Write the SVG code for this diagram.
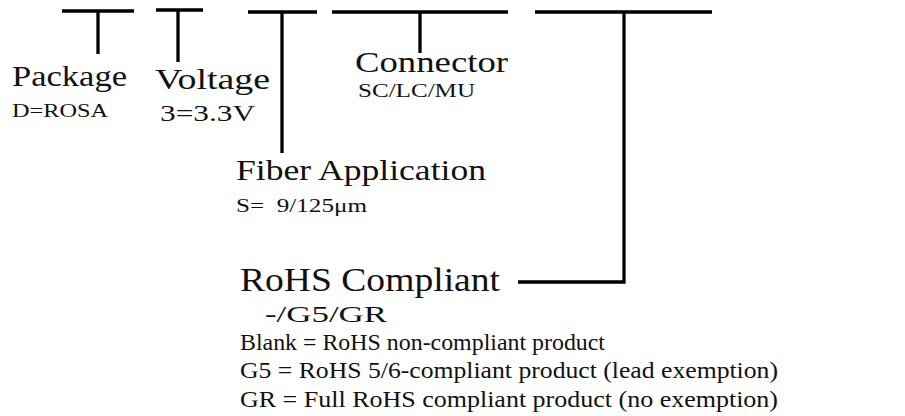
<svg xmlns="http://www.w3.org/2000/svg" width="905" height="416" viewBox="0 0 905 416">
<style>
.ln{stroke:#000;stroke-width:3.3;fill:none;stroke-linecap:butt}
text{font-family:"Liberation Serif","Times New Roman",serif;fill:#111}
.big{font-size:29px}
.sm{font-size:19px}
.md{font-size:24px}
</style>
<rect width="905" height="416" fill="#fff"/>
<g id="connectors">
<path class="ln" d="M62 11H134M98 11V54"/>
<path class="ln" d="M156 10H203M178 10V62"/>
<path class="ln" d="M248 12H317M282 12V153"/>
<path class="ln" d="M332 12H508M420 12V53"/>
<path class="ln" d="M535 12H712M624 12V283M625.6 282H518"/>
</g>
<g id="package">
<text class="big" x="12" y="86" textLength="115" lengthAdjust="spacingAndGlyphs">Package</text>
<text class="sm" x="12" y="117" textLength="96" lengthAdjust="spacingAndGlyphs">D=ROSA</text>
</g>
<g id="voltage">
<text class="big" x="155" y="89" textLength="115" lengthAdjust="spacingAndGlyphs">Voltage</text>
<text class="md" x="160" y="121" textLength="95" lengthAdjust="spacingAndGlyphs">3=3.3V</text>
</g>
<g id="connector">
<text class="big" x="355" y="72" textLength="153" lengthAdjust="spacingAndGlyphs">Connector</text>
<text class="sm" x="358" y="97" textLength="117" lengthAdjust="spacingAndGlyphs">SC/LC/MU</text>
</g>
<g id="fiber">
<text class="big" x="236" y="180" textLength="250" lengthAdjust="spacingAndGlyphs">Fiber Application</text>
<text class="sm" x="236" y="212" textLength="131" lengthAdjust="spacingAndGlyphs" xml:space="preserve">S=  9/125μm</text>
</g>
<g id="rohs">
<text style="font-size:33px" x="240" y="291" textLength="260" lengthAdjust="spacingAndGlyphs">RoHS Compliant</text>
<text class="md" x="265" y="322" textLength="122" lengthAdjust="spacingAndGlyphs">-/G5/GR</text>
<text class="md" x="240" y="350" textLength="365" lengthAdjust="spacingAndGlyphs">Blank = RoHS non-compliant product</text>
<text class="md" x="240" y="378" textLength="538" lengthAdjust="spacingAndGlyphs">G5 = RoHS 5/6-compliant product (lead exemption)</text>
<text class="md" x="240" y="407" textLength="538" lengthAdjust="spacingAndGlyphs">GR = Full RoHS compliant product (no exemption)</text>
</g>
</svg>
